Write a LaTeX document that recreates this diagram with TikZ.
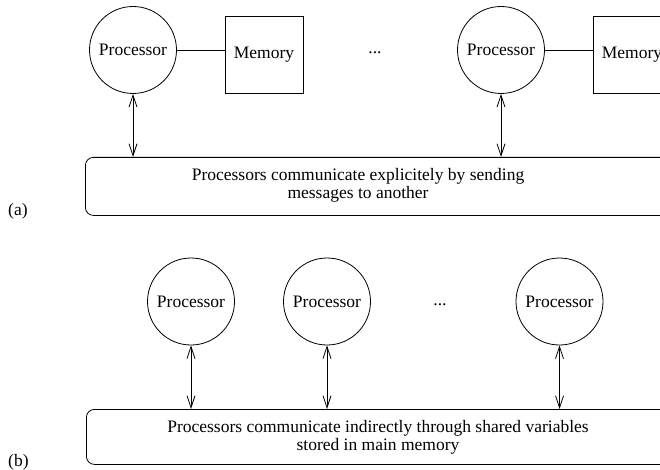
\documentclass[tikz,border=0pt]{standalone}
\usepackage{fontspec}
\setmainfont{Liberation Serif}
\usetikzlibrary{arrows.meta}
\begin{document}
\begin{tikzpicture}[x=1pt,y=-1pt,
  font=\fontsize{17.5}{21}\selectfont,
  proc/.style={draw,circle,minimum size=87pt,inner sep=0pt,line width=0.8pt},
  mem/.style={draw,rectangle,minimum width=78pt,minimum height=77pt,inner sep=0pt,line width=0.8pt},
  bus/.style={draw,rounded corners=8pt,minimum width=620pt,inner sep=0pt,anchor=north west,line width=0.8pt},
  link/.style={line width=0.8pt,{Straight Barb[length=12pt,width=8pt]}-{Straight Barb[length=12pt,width=8pt]}},
  plain/.style={line width=0.8pt}]
\useasboundingbox (0,0) rectangle (660,470);
\clip (0,0) rectangle (660,470);
% (a)
\node[proc] (p1) at (133,50) {Processor};
\node[mem] (m1) at (264,54.5) {Memory};
\node[proc] (p2) at (501,50) {Processor};
\node[mem] (m2) at (632,54.5) {Memory};
\node[anchor=base] (dotsa) at (375,54) {...};
\node[bus,minimum height=58pt] (ra) at (85,157) {};
\node[anchor=base] (ta1) at (358,181) {Processors communicate explicitely by sending};
\node[anchor=base] (ta2) at (358,199) {messages to another};
\node[anchor=base west,inner sep=0pt] (la) at (8,215) {(a)};
\draw[plain] (p1.east) -- (p1.east -| m1.west);
\draw[plain] (p2.east) -- (p2.east -| m2.west);
\draw[link] (p1.south) -- (p1.south |- ra.north);
\draw[link] (p2.south) -- (p2.south |- ra.north);
% (b)
\node[proc] (q1) at (191,301.5) {Processor};
\node[proc] (q2) at (327,301.5) {Processor};
\node[proc] (q3) at (559.5,301.5) {Processor};
\node[anchor=base] (dotsb) at (440,305) {...};
\node[bus,minimum height=55pt] (rb) at (86,409) {};
\node[anchor=base] (tb1) at (378,432) {Processors communicate indirectly through shared variables};
\node[anchor=base] (tb2) at (378,450) {stored in main memory};
\node[anchor=base west,inner sep=0pt] (lb) at (8,466) {(b)};
\draw[link] (q1.south) -- (q1.south |- rb.north);
\draw[link] (q2.south) -- (q2.south |- rb.north);
\draw[link] (q3.south) -- (q3.south |- rb.north);
\end{tikzpicture}
\end{document}
